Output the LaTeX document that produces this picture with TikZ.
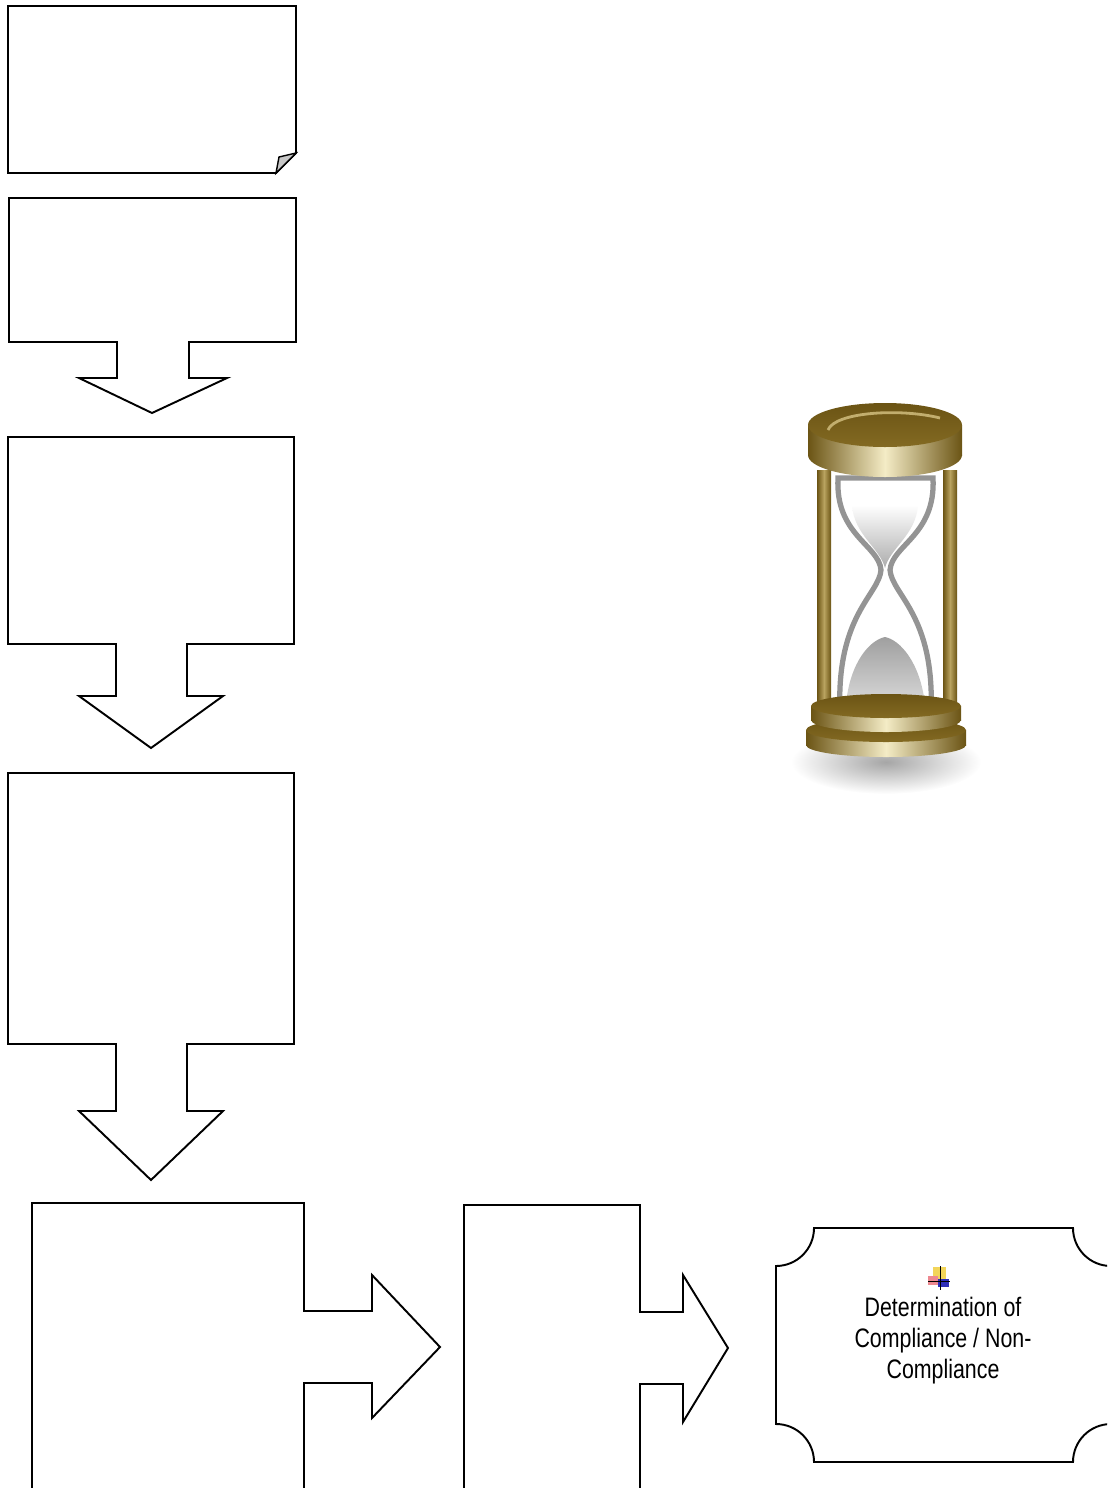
\documentclass[tikz,border=0pt]{standalone}
\usepackage{fontspec}
\setmainfont{Liberation Sans}[FakeStretch=0.8]
\usetikzlibrary{calc}
\definecolor{golddark}{HTML}{6B5414}
\definecolor{goldmid}{HTML}{A08434}
\definecolor{goldlight}{HTML}{F4ECC6}
\definecolor{flagyellow}{HTML}{F2D55A}
\definecolor{flagred}{HTML}{E86A74}
\definecolor{flagblue}{HTML}{2E2EB8}
% brass disc: centre x, top y, bottom y, x radius, y radius
\newcommand{\goldcyl}[5]{%
  \shade[goldband] (#1,#3) ellipse [x radius=#4, y radius=#5];
  \shade[goldband] (#1-#4,#2) rectangle (#1+#4,#3);
  \shade[goldtop] (#1,#2) ellipse [x radius=#4, y radius=#5];}

\begin{document}
\begin{tikzpicture}[x=0.02cm, y=-0.02cm, line join=miter,
  block/.style={draw, line width=1.1pt, fill=white},
  fold/.style={draw, line width=0.8pt, fill=black!22},
  goldband/.style={left color=golddark, right color=golddark, middle color=goldlight},
  goldtop/.style={top color=golddark, bottom color=golddark!55!goldmid},
  rod/.style={left color=golddark, right color=golddark, middle color=goldmid!70!goldlight},
  glass/.style={draw=black!42, line width=3pt, fill=white},
  verdict/.style={align=center, inner sep=0pt, font=\fontsize{15.2}{17.6}\selectfont}]
\useasboundingbox (0,0) rectangle (1107,1488);
\clip (0,0) rectangle (1107,1488);

% left column
\draw[block] (8,6) -- (296,6) -- (296,153) -- (276,173) -- (8,173) -- cycle;
\draw[fold] (296,153) -- (279,157) -- (276,173) -- cycle;
\draw[block] (9,198) -- (296,198) -- (296,342) -- (189,342) -- (189,378) -- (227,378) -- (152,413)
  -- (79,378) -- (117,378) -- (117,342) -- (9,342) -- cycle;
\draw[block] (8,437) -- (294,437) -- (294,644) -- (187,644) -- (187,696) -- (223,696) -- (151,748)
  -- (79,696) -- (116,696) -- (116,644) -- (8,644) -- cycle;
\draw[block] (8,773) -- (294,773) -- (294,1044) -- (187,1044) -- (187,1111) -- (223,1111) -- (151,1180)
  -- (79,1111) -- (116,1111) -- (116,1044) -- (8,1044) -- cycle;

% bottom row
\draw[block] (32,1495) -- (32,1203) -- (304,1203) -- (304,1311) -- (372,1311) -- (372,1275) -- (440,1347)
  -- (372,1418) -- (372,1383) -- (304,1383) -- (304,1495);
\draw[block] (464,1495) -- (464,1205) -- (640,1205) -- (640,1312) -- (683,1312) -- (683,1275) -- (728,1348)
  -- (683,1422) -- (683,1384) -- (640,1384) -- (640,1495);
\draw[block] (814,1228) -- (1073,1228) .. controls (1073,1249) and (1090,1266) .. (1111,1266)
  -- (1111,1424) .. controls (1090,1424) and (1073,1441) .. (1073,1462)
  -- (814,1462) .. controls (814,1441) and (797,1424) .. (776,1424)
  -- (776,1266) .. controls (797,1266) and (814,1249) .. (814,1228) -- cycle;

\fill[flagyellow] (933,1267) rectangle (946,1279);
\fill[flagred!80] (928,1276) rectangle (938,1285);
\fill[flagblue] (938,1279) rectangle (949,1287);
\draw[line width=0.5pt] (940,1266) -- (940,1290) (928,1281) -- (950,1281);
\node[verdict] (verdict) at (943,1341) {Determination of\\Compliance / Non-\\Compliance};

% hourglass
\shade[inner color=black!35, outer color=white] (886,762) ellipse [x radius=95, y radius=32];
\shade[rod] (817,470) rectangle (831,725);
\shade[rod] (943,470) rectangle (957,725);
\draw[glass] (838,478) .. controls (835,535) and (879,545) .. (881,570) .. controls (879,595) and (836,615) .. (840,712)
  -- (931,712) .. controls (935,615) and (892,595) .. (890,570) .. controls (892,545) and (936,535) .. (933,478) -- cycle;
\shade[top color=white, bottom color=gray!65] (852,505) .. controls (854,535) and (880,548) .. (885,568)
  .. controls (890,548) and (916,535) .. (918,505) -- cycle;
\shade[top color=gray!75, bottom color=gray!30] (846,704) .. controls (850,662) and (870,640) .. (885,637)
  .. controls (900,640) and (920,662) .. (925,704) -- cycle;
\goldcyl{886}{730}{745}{80}{12}
\goldcyl{886}{706}{720}{75}{12}
\goldcyl{885}{425}{455}{77}{22}
\draw[goldmid!60!goldlight, line width=1.6pt] (828,430) .. controls (835,412) and (900,408) .. (940,418);
\end{tikzpicture}
\end{document}
